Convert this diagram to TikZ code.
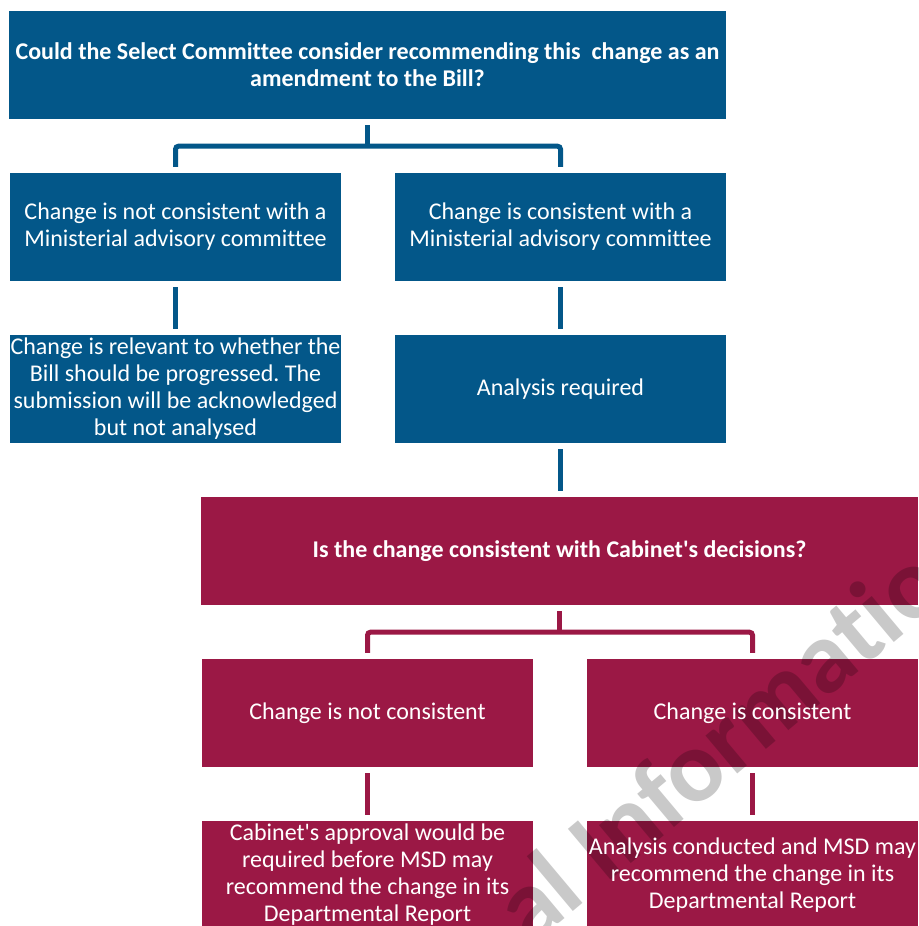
\documentclass[tikz,border=0pt]{standalone}
\usepackage{fontspec}
\setmainfont{Carlito}[Ligatures={NoCommon,TeXOff}]
\usetikzlibrary{calc}
\definecolor{boxblue}{RGB}{3,87,137}
\definecolor{boxred}{RGB}{155,24,69}
\pgfdeclarelayer{bg}
\pgfdeclarelayer{mid}
\pgfsetlayers{bg,mid,main}
\tikzset{
  box/.style={rectangle, minimum width=331pt, minimum height=108pt, inner sep=0pt,
    text=white, align=center, font=\fontsize{24}{27}\selectfont},
  widebox/.style={box, minimum width=717pt},
  bconn/.style={draw=boxblue, line width=5pt},
  rconn/.style={draw=boxred, line width=5pt},
}
\begin{document}
\frenchspacing
\begin{tikzpicture}[x=1pt,y=-1pt]
\useasboundingbox (0,0) rectangle (918,926);

% blue part
\node[widebox, font=\fontsize{24}{27}\selectfont\bfseries] (top) at (367.5,65)
  {Could the Select Committee consider recommending this\ \ change as an\\amendment to the Bill?};
\node[box] (a1) at (175.5,227) {Change is not consistent with a\\Ministerial advisory committee};
\node[box] (b1) at (560.5,227) {Change is consistent with a\\Ministerial advisory committee};
\node[box] (a2) at (175.5,389) {Change is relevant to whether the\\Bill should be progressed. The\\submission will be acknowledged\\but not analysed};
\node[box] (b2) at (560.5,389) {Analysis required};

% red part
\node[widebox, font=\fontsize{24}{27}\selectfont\bfseries] (q2) at (559.5,551)
  {Is the change consistent with Cabinet's decisions?};
\node[box] (c1) at (367.5,713) {Change is not consistent};
\node[box] (c2) at (752.5,713) {Change is consistent};
\node[box] (c3) at (367.5,875) {Cabinet's approval would be\\required before MSD may\\recommend the change in its\\Departmental Report};
\node[box] (c4) at (752.5,875) {Analysis conducted and MSD may\\recommend the change in its\\Departmental Report};

\begin{pgfonlayer}{bg}
  \foreach \n in {top,a1,b1,a2,b2}
    \fill[boxblue] (\n.south west) rectangle (\n.north east);
  \foreach \n in {q2,c1,c2,c3,c4}
    \fill[boxred] (\n.south west) rectangle (\n.north east);
\end{pgfonlayer}

% connectors
\coordinate (j1) at ([yshift=-27pt]top.south);
\coordinate (j2) at ([yshift=-27pt]q2.south);
\draw[bconn] ([yshift=-6pt]top.south) -- (j1);
\draw[bconn, rounded corners=3pt] ([yshift=6pt]a1.north) -- (a1 |- j1) -- (b1 |- j1) -- ([yshift=6pt]b1.north);
\draw[bconn] ([yshift=-6pt]a1.south) -- ([yshift=6pt]a2.north);
\draw[bconn] ([yshift=-6pt]b1.south) -- ([yshift=6pt]b2.north);
\draw[bconn] ([yshift=-6pt]b2.south) -- ([yshift=6pt]q2.north -| b2.south);
\draw[rconn] ([yshift=-6pt]q2.south) -- (j2);
\draw[rconn, rounded corners=3pt] ([yshift=6pt]c1.north) -- (c1 |- j2) -- (c2 |- j2) -- ([yshift=6pt]c2.north);
\draw[rconn] ([yshift=-6pt]c1.south) -- ([yshift=6pt]c3.north);
\draw[rconn] ([yshift=-6pt]c2.south) -- ([yshift=6pt]c4.north);

% watermark
\begin{pgfonlayer}{mid}
  \node[rotate=40, anchor=base west, inner sep=0pt, text=black, text opacity=0.21,
        font=\fontsize{102}{102}\selectfont\bfseries] (wm) at (530,948) {al Information};
\end{pgfonlayer}
\end{tikzpicture}
\end{document}
